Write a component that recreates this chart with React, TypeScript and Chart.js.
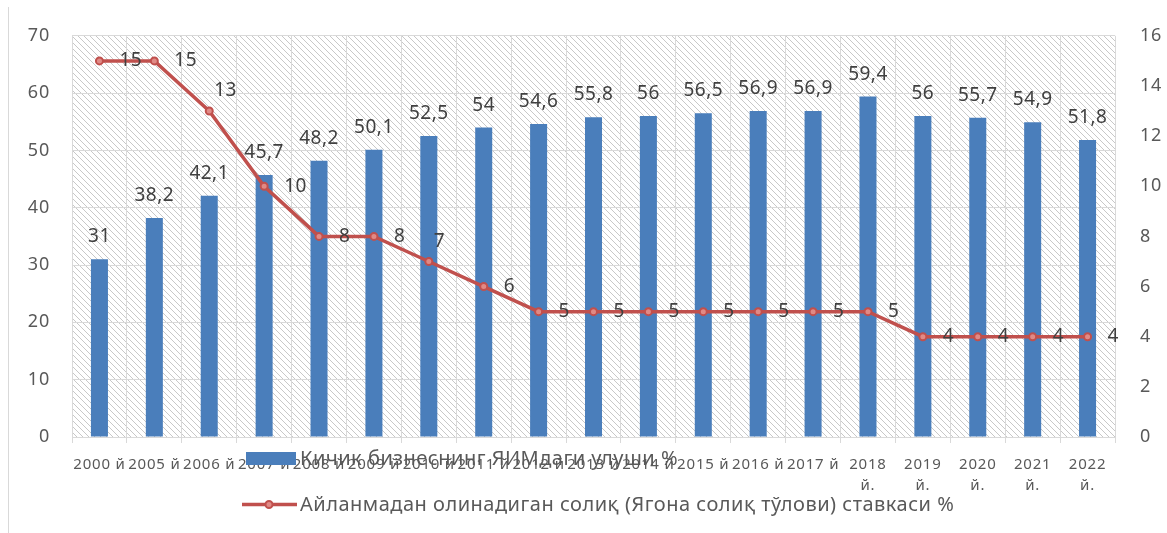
import React, { useEffect, useRef } from 'react';
import { Chart, registerables } from 'chart.js';

Chart.register(...registerables);

const categories: (string | string[])[] = [
  '2000 й', '2005 й', '2006 й', '2007 й', '2008 й', '2009 й', '2010 й', '2011 й', '2012 й',
  '2013 й', '2014 й', '2015 й', '2016 й', '2017 й',
  ['2018', 'й.'], ['2019', 'й.'], ['2020', 'й.'], ['2021', 'й.'], ['2022', 'й.'],
];

const gdpShare = [31, 38.2, 42.1, 45.7, 48.2, 50.1, 52.5, 54, 54.6, 55.8, 56, 56.5, 56.9, 56.9, 59.4, 56, 55.7, 54.9, 51.8];
const taxRate = [15, 15, 13, 10, 8, 8, 7, 6, 5, 5, 5, 5, 5, 5, 5, 4, 4, 4, 4];

const gdpLabel = 'Кичик бизнеснинг ЯИМдаги улуши %';
const taxLabel = 'Айланмадан олинадиган солиқ (Ягона солиқ тўлови) ставкаси %';

const leftAxis = { min: 0, max: 70, step: 10 };
const rightAxis = { min: 0, max: 16, step: 2 };

const FONT = "'Noto Sans', 'Open Sans', sans-serif";
const BLUE = '#4A7EBB';
const RED = '#C0504D';
const TEXT = '#595959';
const LABEL = '#404040';
const GRID = '#d9d9d9';

function makeHatch(): CanvasPattern | string {
  const c = document.createElement('canvas');
  c.width = 6;
  c.height = 6;
  const g = c.getContext('2d');
  if (!g) return '#ffffff';
  g.fillStyle = '#ffffff';
  g.fillRect(0, 0, 6, 6);
  g.strokeStyle = '#c8c8c8';
  g.lineWidth = 1;
  g.beginPath();
  g.moveTo(-1, -1);
  g.lineTo(7, 7);
  g.moveTo(-4, 2);
  g.lineTo(4, 10);
  g.moveTo(2, -4);
  g.lineTo(10, 4);
  g.stroke();
  const p = g.createPattern(c, 'repeat');
  return p || '#ffffff';
}

const fmt = (v: number) => String(v).replace('.', ',');

export default function App() {
  const ref = useRef<HTMLCanvasElement | null>(null);

  useEffect(() => {
    document.body.style.margin = '0';
    const canvas = ref.current;
    if (!canvas) return;
    const hatch = makeHatch();

    const decor = {
      id: 'decor',
      beforeDraw(chart: any) {
        const { ctx, chartArea } = chart;
        ctx.save();
        ctx.fillStyle = hatch as any;
        ctx.fillRect(chartArea.left, chartArea.top, chartArea.right - chartArea.left, chartArea.bottom - chartArea.top);
        ctx.restore();
        (ctx as any).letterSpacing = '0.8px';
      },
      afterDatasetsDraw(chart: any) {
        const { ctx } = chart;
        ctx.save();
        (ctx as any).letterSpacing = '0.5px';
        ctx.font = `19px ${FONT}`;
        ctx.fillStyle = LABEL;
        // bar labels
        const barMeta = chart.getDatasetMeta(1);
        barMeta.data.forEach((el: any, i: number) => {
          ctx.textAlign = 'center';
          ctx.textBaseline = 'alphabetic';
          ctx.fillText(fmt(gdpShare[i]), el.x, el.y - 17);
        });
        // line labels (right of the point; the one on the steep 15→13→10 slope sits above)
        const lineMeta = chart.getDatasetMeta(0);
        lineMeta.data.forEach((el: any, i: number) => {
          const prev = taxRate[i - 1];
          const next = taxRate[i + 1];
          const above = prev !== undefined && next !== undefined && prev > taxRate[i] && taxRate[i] > next && prev === taxRate[i - 2];
          ctx.textBaseline = 'middle';
          ctx.textAlign = 'left';
          if (above) {
            ctx.fillText(fmt(taxRate[i]), el.x + 5, el.y - 20);
          } else {
            ctx.fillText(fmt(taxRate[i]), el.x + 20, el.y);
          }
        });
        ctx.restore();
      },
      afterDraw(chart: any) {
        const { ctx } = chart;
        ctx.save();
        (ctx as any).letterSpacing = '0px';
        // left frame line
        ctx.strokeStyle = GRID;
        ctx.lineWidth = 1;
        ctx.beginPath();
        ctx.moveTo(8.5, 7);
        ctx.lineTo(8.5, 533);
        ctx.stroke();

        // legend
        (ctx as any).letterSpacing = '0.5px';
        ctx.font = `20px ${FONT}`;
        ctx.textBaseline = 'middle';
        ctx.textAlign = 'left';
        // item 1: bar
        ctx.fillStyle = BLUE;
        ctx.fillRect(246, 452, 50, 13);
        ctx.fillStyle = TEXT;
        ctx.fillText(gdpLabel, 300, 459);
        // item 2: line with marker
        ctx.strokeStyle = RED;
        ctx.lineWidth = 3.5;
        ctx.beginPath();
        ctx.moveTo(242, 504.5);
        ctx.lineTo(297, 504.5);
        ctx.stroke();
        ctx.beginPath();
        ctx.arc(269, 504.5, 3.5, 0, Math.PI * 2);
        ctx.fillStyle = '#E08A86';
        ctx.fill();
        ctx.lineWidth = 2;
        ctx.stroke();
        ctx.fillStyle = TEXT;
        ctx.fillText(taxLabel, 300, 505);
        ctx.restore();
      },
    };

    const chart = new Chart(canvas, {
      type: 'bar',
      data: {
        labels: categories as any,
        datasets: [
          {
            type: 'line',
            label: taxLabel,
            data: taxRate,
            yAxisID: 'y1',
            borderColor: RED,
            borderWidth: 3.5,
            pointRadius: 3.5,
            pointBorderWidth: 2,
            pointBackgroundColor: '#E08A86',
            pointBorderColor: RED,
            tension: 0,
            order: 0,
          } as any,
          {
            type: 'bar',
            label: gdpLabel,
            data: gdpShare,
            yAxisID: 'y',
            backgroundColor: BLUE,
            barPercentage: 1,
            categoryPercentage: 0.31,
            order: 1,
          } as any,
        ],
      },
      options: {
        responsive: false,
        animation: false,
        layout: { padding: { top: 35, left: 0, right: 0, bottom: 0 } },
        plugins: {
          legend: { display: false },
          tooltip: { enabled: false },
        },
        scales: {
          x: {
            grid: { color: GRID, offset: true, drawTicks: true, tickLength: 6, tickColor: GRID } as any,
            border: { color: GRID },
            ticks: {
              autoSkip: false,
              maxRotation: 0,
              minRotation: 0,
              color: TEXT,
              padding: 12,
              font: { family: FONT, size: 15, lineHeight: 1.35 },
            },
            afterFit: (s: any) => { s.height = 96; },
          },
          y: {
            position: 'left',
            min: leftAxis.min,
            max: leftAxis.max,
            ticks: { stepSize: leftAxis.step, color: TEXT, padding: 22, font: { family: FONT, size: 18 } },
            grid: { color: GRID, drawTicks: false },
            border: { display: false },
            afterFit: (s: any) => { s.width = 72; },
          },
          y1: {
            position: 'right',
            min: rightAxis.min,
            max: rightAxis.max,
            ticks: { stepSize: rightAxis.step, color: TEXT, padding: 25, font: { family: FONT, size: 18 } },
            grid: { display: false, drawTicks: false },
            border: { display: false },
            afterFit: (s: any) => { s.width = 52; },
          },
        },
      },
      plugins: [decor],
    });

    return () => chart.destroy();
  }, []);

  return (
    <div style={{ width: 1167, height: 533, background: '#ffffff' }}>
      <canvas ref={ref} width={1167} height={533} style={{ display: 'block' }} />
    </div>
  );
}
